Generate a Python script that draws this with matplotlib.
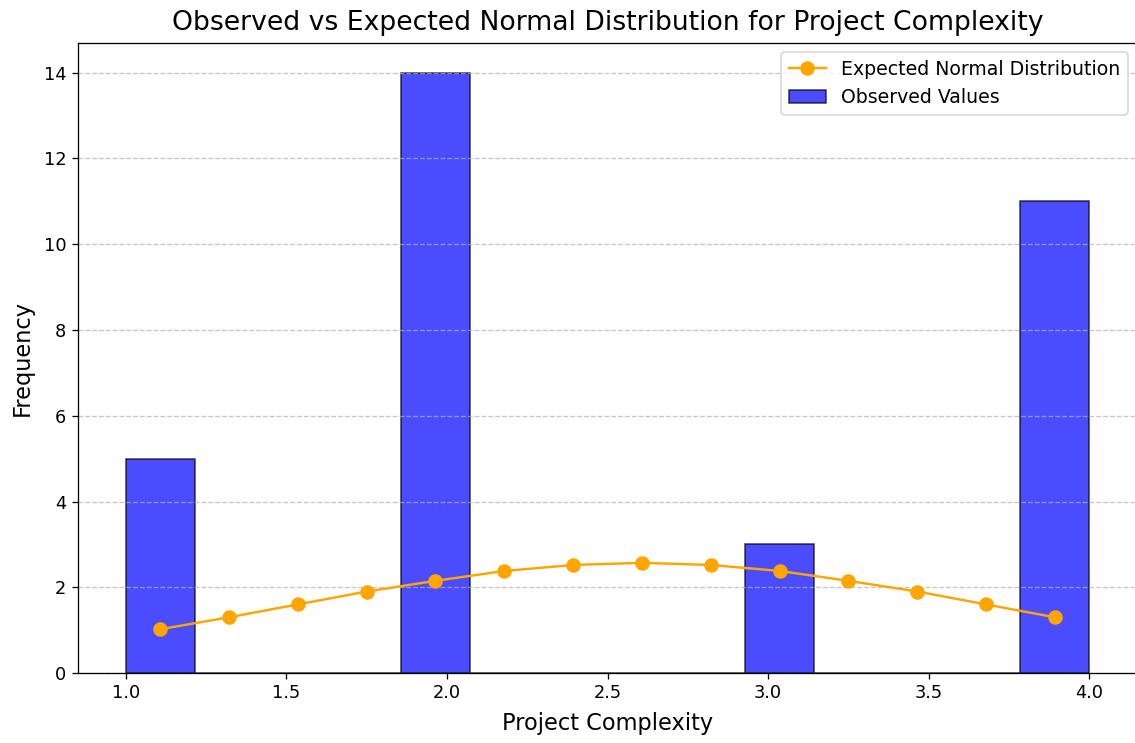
#%% --- Import required packages ---

import numpy as np
import matplotlib.pyplot as plt

#%% --- Data ---

complexity_levels = [1, 2, 3, 4]
observed_counts = [5, 14, 3, 11]

# expected frequencies at the 14 bin centres
expected_freq = [1.02, 1.30, 1.60, 1.90, 2.15, 2.38, 2.52,
                 2.57, 2.52, 2.38, 2.15, 1.90, 1.60, 1.30]

n_bins = 14

#%% --- Plot data ---

observations = np.repeat(complexity_levels, observed_counts)

# Figsize calculation in pixels is figsizex/y * dpi
dpi = 116
fig = plt.figure(figsize = (1135 / dpi, 743 / dpi), dpi = dpi)
# right spine sits just past the image edge, as in the reference
ax = fig.add_axes([0.0683, 0.0942, 0.9339, 0.8483])

counts, bin_edges, _ = ax.hist(observations,
                               bins = n_bins,
                               color = "blue",
                               alpha = 0.7,
                               edgecolor = "black",
                               label = "Observed Values")

bin_centers = (bin_edges[:-1] + bin_edges[1:]) / 2
ax.plot(bin_centers, expected_freq,
        color = "orange",
        marker = "o",
        markersize = 8,
        label = "Expected Normal Distribution")

# --- Text and annotation ---
ax.set_title("Observed vs Expected Normal Distribution for Project Complexity",
             fontsize = 16.5, pad = 8)
ax.set_xlabel("Project Complexity", fontsize = 14, labelpad = 6)
ax.set_ylabel("Frequency", fontsize = 14, labelpad = 6)
ax.tick_params(labelsize = 11)
ax.grid(axis = "y", linestyle = "--", alpha = 0.7)

handles, labels = ax.get_legend_handles_labels()
ax.legend(handles[::-1], labels[::-1], fontsize = 11.7)

#%% --- Export data ---

fig.savefig("out.png", dpi = dpi)
